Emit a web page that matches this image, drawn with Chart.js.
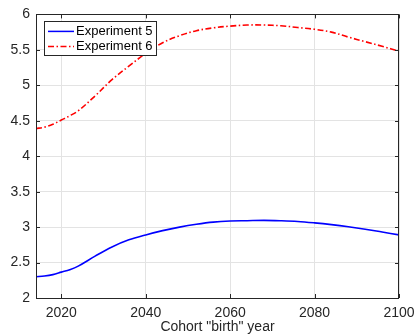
<!DOCTYPE html>
<html>
<head>
<meta charset="utf-8">
<script src="https://cdn.jsdelivr.net/npm/chart.js@4/dist/chart.umd.min.js"></script>
<style>
  html, body { margin: 0; padding: 0; background: #fff; }
  #wrap { width: 417px; height: 336px; }
</style>
</head>
<body>
<div id="wrap"><canvas id="grafico" width="417" height="336"></canvas></div>
<script>
// values
const anos = [2014, 2016, 2018, 2020, 2022, 2024, 2028, 2032, 2036, 2040, 2044, 2048, 2052,
              2056, 2060, 2064, 2068, 2072, 2076, 2080, 2084, 2088, 2092, 2096, 2100];
const exp5 = [2.30, 2.31, 2.33, 2.365, 2.40, 2.45, 2.59, 2.72, 2.82, 2.89, 2.95, 3.00, 3.04,
              3.07, 3.085, 3.09, 3.095, 3.09, 3.08, 3.06, 3.035, 3.005, 2.97, 2.93, 2.89];
const exp6 = [4.39, 4.41, 4.45, 4.51, 4.57, 4.64, 4.85, 5.08, 5.27, 5.45, 5.60, 5.70, 5.77,
              5.81, 5.835, 5.85, 5.85, 5.84, 5.815, 5.79, 5.75, 5.68, 5.615, 5.55, 5.48];
const ticksX = [2020, 2040, 2060, 2080, 2100];
const ticksY = [2, 2.5, 3, 3.5, 4, 4.5, 5, 5.5, 6];
const nomes = ['Experiment 5', 'Experiment 6'];

const corEixo = '#262626';
const fonte = 'Arial, "Liberation Sans", Helvetica, sans-serif';

function pontos(valores) {
  return anos.map((a, i) => ({ x: a, y: valores[i] }));
}

// axes box with inner ticks, MATLAB style, plus the legend
const caixa = {
  id: 'caixa',
  afterDatasetsDraw(chart) {
    const { ctx, chartArea: a, scales } = chart;
    ctx.save();
    ctx.strokeStyle = corEixo;
    ctx.lineWidth = 1;
    ctx.beginPath();
    ticksX.forEach(t => {
      const px = Math.round(scales.x.getPixelForValue(t)) + 0.5;
      ctx.moveTo(px, a.bottom); ctx.lineTo(px, a.bottom - 4);
      ctx.moveTo(px, a.top); ctx.lineTo(px, a.top + 4);
    });
    ticksY.forEach(t => {
      const py = Math.round(scales.y.getPixelForValue(t)) + 0.5;
      ctx.moveTo(a.left, py); ctx.lineTo(a.left + 4, py);
      ctx.moveTo(a.right, py); ctx.lineTo(a.right - 4, py);
    });
    ctx.stroke();
    ctx.strokeRect(Math.round(a.left) + 0.5, Math.round(a.top) + 0.5,
                   Math.round(a.right - a.left) - 1, Math.round(a.bottom - a.top));
    ctx.restore();
  },
  afterDraw(chart) {
    const { ctx, chartArea: a } = chart;
    const x0 = a.left + 8, y0 = a.top + 7, w = 112, h = 34;
    ctx.save();
    ctx.fillStyle = '#fff';
    ctx.fillRect(x0, y0, w, h);
    ctx.strokeStyle = corEixo;
    ctx.lineWidth = 1;
    ctx.strokeRect(Math.round(x0) + 0.5, Math.round(y0) + 0.5, w, h);
    ctx.font = '13px ' + fonte;
    ctx.textBaseline = 'middle';
    chart.data.datasets.forEach((ds, i) => {
      const y = y0 + 10 + i * 15;
      ctx.strokeStyle = ds.borderColor;
      ctx.lineWidth = 1.5;
      ctx.setLineDash(ds.borderDash || []);
      ctx.beginPath();
      ctx.moveTo(x0 + 4, y); ctx.lineTo(x0 + 30, y);
      ctx.stroke();
      ctx.setLineDash([]);
      ctx.fillStyle = '#000';
      ctx.fillText(ds.label, x0 + 32, y + 0.5);
    });
    ctx.restore();
  }
};

new Chart(document.getElementById('grafico').getContext('2d'), {
  type: 'line',
  data: {
    datasets: [
      { label: nomes[0], data: pontos(exp5), borderColor: '#0000ff', borderWidth: 1.6,
        pointRadius: 0, tension: 0.35, fill: false },
      { label: nomes[1], data: pontos(exp6), borderColor: '#ff0000', borderWidth: 1.6,
        borderDash: [6, 2.5, 1.5, 2.5], pointRadius: 0, tension: 0.35, fill: false }
    ]
  },
  options: {
    responsive: false,
    animation: false,
    layout: { padding: { top: 12, right: 18, bottom: 0, left: 0 } },
    plugins: { legend: { display: false }, tooltip: { enabled: false } },
    scales: {
      x: {
        type: 'linear', min: 2014, max: 2100,
        afterBuildTicks: s => { s.ticks = ticksX.map(v => ({ value: v })); },
        afterFit: s => { s.height = 38; s.paddingRight = 0; s.paddingLeft = 0; },
        grid: { color: '#e3e3e3', drawTicks: false },
        border: { display: false },
        ticks: { color: corEixo, font: { family: fonte, size: 14 }, padding: 7, maxRotation: 0,
                 callback: v => String(v) },
        title: { display: true, text: 'Cohort "birth" year', color: corEixo,
                 font: { family: fonte, size: 14 }, padding: { top: 0, bottom: 0 } }
      },
      y: {
        min: 2, max: 6,
        afterBuildTicks: s => { s.ticks = ticksY.map(v => ({ value: v })); },
        afterFit: s => { s.width = 36; },
        grid: { color: '#e3e3e3', drawTicks: false },
        border: { display: false },
        ticks: { color: corEixo, font: { family: fonte, size: 14 }, padding: 6,
                 callback: v => String(v) }
      }
    }
  },
  plugins: [caixa]
});
</script>
</body>
</html>
